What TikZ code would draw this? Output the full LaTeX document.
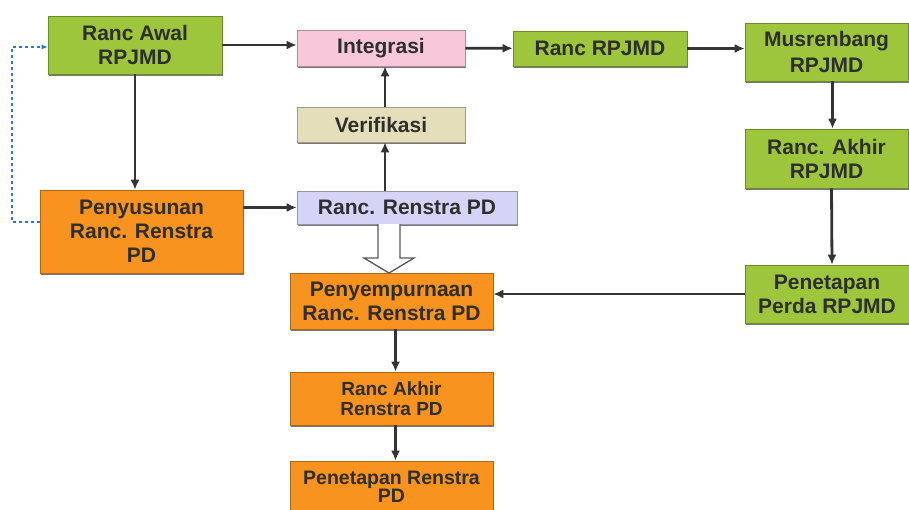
\documentclass[tikz,border=0pt]{standalone}
\usepackage{fontspec}
\setmainfont{Liberation Sans}
\usetikzlibrary{arrows.meta,shadows,calc}
\definecolor{hijau}{HTML}{9DC63C}
\definecolor{jingga}{HTML}{F7931E}
\definecolor{merahmuda}{HTML}{F8C8DA}
\definecolor{krem}{HTML}{E5DEBA}
\definecolor{ungu}{HTML}{D6D4F6}
\definecolor{teks}{HTML}{2E2E2E}
\definecolor{garis}{HTML}{333338}
\tikzset{
  kotak/.style={rectangle, draw=#1!70!black, line width=0.6pt, fill=#1,
    text=teks, font=\bfseries\fontsize{21}{24}\selectfont, align=center,
    inner sep=2pt, drop shadow={shadow xshift=0.8pt, shadow yshift=-1.8pt, opacity=0.75, fill=black!70}},
  panah/.style={draw=garis, line width=2.8pt, -{Latex[length=10pt,width=9pt]}},
}
\begin{document}
\begin{tikzpicture}[x=1pt, y=-1pt]
    \useasboundingbox[fill=white] (0,0) rectangle (909,509);
    \clip (0,0) rectangle (909,509);
    % baris atas
    \node[kotak=hijau, minimum width=174pt, minimum height=58pt] (awal) at (135,45) {Ranc Awal\\RPJMD};
    \node[kotak=merahmuda, minimum width=168pt, minimum height=36pt] (integ) at (381,48) {Integrasi};
    \node[kotak=hijau, minimum width=174pt, minimum height=35pt] (rrpjmd) at (600,48.5) {Ranc RPJMD};
    \node[kotak=hijau, minimum width=163pt, minimum height=58pt, font=\bfseries\fontsize{21}{26}\selectfont] (musren) at (826.5,52) {Musrenbang\\RPJMD};
    % tengah
    \node[kotak=krem, minimum width=168pt, minimum height=35pt] (verif) at (381,124.5) {Verifikasi};
    \node[kotak=hijau, minimum width=163pt, minimum height=59pt] (akhir) at (826.5,158.5) {Ranc. Akhir\\RPJMD};
    \node[kotak=jingga, minimum width=203pt, minimum height=83pt] (penyus) at (141.5,231.5) {Penyusunan\\Ranc. Renstra\\PD};
    \node[kotak=ungu, minimum width=220pt, minimum height=33pt] (rrenstra) at (407,207.5) {Ranc. Renstra PD};
    \node[kotak=hijau, minimum width=164pt, minimum height=58pt] (perda) at (827,294) {Penetapan\\Perda RPJMD};
    % bawah
    \node[kotak=jingga, minimum width=203pt, minimum height=56pt] (penyemp) at (391.5,301) {Penyempurnaan\\Ranc. Renstra PD};
    \node[kotak=jingga, minimum width=203pt, minimum height=53pt, font=\bfseries\fontsize{19}{19.5}\selectfont] (rakhir) at (391.5,398.5) {Ranc Akhir\\Renstra PD};
    \node[kotak=jingga, minimum width=203pt, minimum height=52pt, font=\bfseries\fontsize{19.5}{18}\selectfont] (pren) at (391.5,487) {Penetapan Renstra\\PD};

    \draw[panah] (awal.east) -- (integ.west |- awal.east);
    \draw[panah] (integ) -- (rrpjmd);
    \draw[panah] (rrpjmd.east) -- (rrpjmd.east -| musren.west);
    \draw[panah] ([xshift=6pt]musren.south) -- ([xshift=6pt]akhir.north);
    \draw[panah] ([xshift=5pt]akhir.south) -- ([xshift=5pt]perda.north);
    \draw[panah] (perda.west) -- (penyemp.east |- perda.west);
    \draw[panah] (awal.south) -- (awal.south |- penyus.north);
    \draw[panah] (penyus.east |- rrenstra.west) -- (rrenstra.west);
    \draw[panah] ([xshift=4pt]verif.south |- rrenstra.north) -- ([xshift=4pt]verif.south);
    \draw[panah] ([xshift=4pt]verif.north) -- ([xshift=4pt]integ.south);
    \draw[panah] ([xshift=4pt]penyemp.south) -- ([xshift=4pt]rakhir.north);
    \draw[panah] ([xshift=4pt]rakhir.south) -- ([xshift=4pt]pren.north);

    % panah tebal kosong
    \coordinate (h) at (389,224);
    \draw[gray!70!black, line width=1.3pt, fill=white]
      ($(h)+(-11,0)$) -- ++(0,34) -- ++(-14,0) -- (389,273) -- ++(25,-15) -- ++(-14,0) -- ++(0,-34);

    % garis putus-putus
    \coordinate (k1) at (12,222);
    \coordinate (k2) at (12,47);
    \draw[blue!55!cyan!70!black!80, dashed, line width=1.1pt, -{Latex[length=6pt,width=5pt]}]
      (penyus.west |- k1) -- (k1) -- (k2) -- (awal.west |- k2);
\end{tikzpicture}
\end{document}
